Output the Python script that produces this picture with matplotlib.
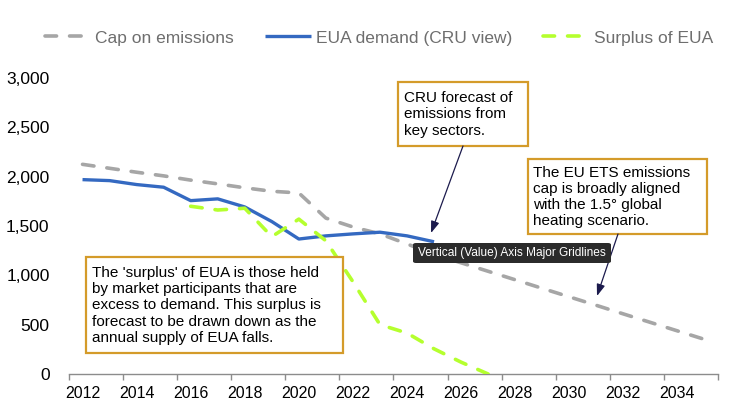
import numpy as np
import matplotlib
matplotlib.use("Agg")
import matplotlib.pyplot as plt
from matplotlib.patches import Rectangle, FancyBboxPatch
from matplotlib.ticker import FuncFormatter, FixedLocator

plt.rcParams['font.family'] = ['Liberation Sans', 'DejaVu Sans']

# data (million EUA)
years = np.arange(2012, 2036)
cap = [2125, 2085, 2045, 2008, 1965, 1927, 1887, 1852, 1835, 1580, 1490, 1420,
       1318, 1213, 1127, 1041, 955, 868, 782, 696, 609, 523, 437, 351]
demand_years = np.arange(2012, 2026)
demand = [1970, 1960, 1920, 1893, 1757, 1775, 1693, 1545, 1368, 1400, 1420,
          1437, 1400, 1340]
surplus_years = np.arange(2016, 2028)
surplus = [1700, 1662, 1680, 1392, 1570, 1350, 935, 500, 415, 255, 120, 0]

y_ticks = [0, 500, 1000, 1500, 2000, 2500, 3000]
x_labels = list(range(2012, 2036, 2))

GRAY = '#A6A6A6'
BLUE = '#3469C1'
GREEN = '#B5FF2E'
GOLD = '#D49B2A'
NAVY = '#1C1B4D'

W, H = 738, 413
fig = plt.figure(figsize=(W / 100, H / 100), dpi=100)


def fx(px):
    return px / W


def fy(py):
    return 1 - py / H


ax = fig.add_axes([fx(69), fy(374), fx(718) - fx(69), fy(78) - fy(374)])

ax.plot(years, cap, color=GRAY, lw=2.6, ls=(0, (3.2, 3.6)),
        dash_capstyle='round', label='Cap on emissions', zorder=2)
ax.plot(demand_years, demand, color=BLUE, lw=2.4, solid_capstyle='butt',
        label='EUA demand (CRU view)', zorder=3)
ax.plot(surplus_years, surplus, color=GREEN, lw=2.6, ls=(0, (3.2, 3.6)),
        dash_capstyle='round', label='Surplus of EUA', zorder=4)

ax.set_xlim(2011.5, 2035.5)
ax.set_ylim(0, 3000)
ax.set_yticks(y_ticks)
ax.yaxis.set_major_formatter(FuncFormatter(lambda v, p: f'{int(v):,}'))
ax.tick_params(axis='y', length=0, pad=14, labelsize=12.5)

# category axis: tick marks between categories, labels every second year
ax.xaxis.set_major_locator(FixedLocator(np.arange(2011.5, 2036, 2)))
ax.set_xticklabels([])
ax.xaxis.set_minor_locator(FixedLocator(x_labels))
ax.set_xticklabels([str(y) for y in x_labels], minor=True)
ax.tick_params(axis='x', which='major', length=4, width=1, color='#8C8C8C')
ax.tick_params(axis='x', which='minor', length=0, pad=9, labelsize=11.5)

for side in ['left', 'right', 'top']:
    ax.spines[side].set_visible(False)
ax.spines['bottom'].set_color('#8C8C8C')
ax.spines['bottom'].set_linewidth(1)

leg = fig.legend(loc='center', bbox_to_anchor=(fx(379), fy(38)), ncol=3,
                 frameon=False, fontsize=12.5, handlelength=2.6,
                 handletextpad=0.3, columnspacing=1.8)
for t in leg.get_texts():
    t.set_color('#6E6E6E')

# annotation boxes
boxes = [
    (398, 82, 528, 146, 404, "CRU forecast of\nemissions from\nkey sectors."),
    (528, 159, 707, 234, 533,
     "The EU ETS emissions\ncap is broadly aligned\nwith the 1.5\u00b0 global\nheating scenario."),
    (86, 257, 343, 353, 92,
     "The 'surplus' of EUA is those held\nby market participants that are\n"
     "excess to demand. This surplus is\nforecast to be drawn down as the\n"
     "annual supply of EUA falls."),
]
for x0, y0, x1, y1, tx, txt in boxes:
    fig.patches.append(Rectangle((fx(x0), fy(y1)), fx(x1) - fx(x0), fy(y0) - fy(y1),
                                 transform=fig.transFigure, facecolor='white',
                                 edgecolor=GOLD, lw=1.6, zorder=5))
    fig.text(fx(tx), fy((y0 + y1) / 2 + 0.5), txt, fontsize=11, ha='left',
             va='center', linespacing=1.2, color='black', zorder=6)

arrows = [((463, 146), (431, 233)), ((618, 234), (597, 296))]
for (sx, sy), (ex, ey) in arrows:
    fig.add_artist(plt.Annotation('', xy=(fx(ex), fy(ey)), xytext=(fx(sx), fy(sy)),
                                  xycoords='figure fraction', textcoords='figure fraction',
                                  arrowprops=dict(arrowstyle='-|>,head_length=0.7,head_width=0.25',
                                                  color=NAVY, lw=0.9, shrinkA=0, shrinkB=0),
                                  zorder=7))

# hover tooltip captured in the screenshot
fig.patches.append(FancyBboxPatch((fx(413), fy(263)), fx(611) - fx(413), fy(243) - fy(263),
                                  boxstyle='round,pad=0,rounding_size=0.004',
                                  transform=fig.transFigure, facecolor='#2B2B2B',
                                  edgecolor='none', zorder=8))
fig.text(fx(512), fy(253), 'Vertical (Value) Axis Major Gridlines', fontsize=8.6,
         color='white', ha='center', va='center', zorder=9)

fig.savefig('out.png', dpi=100)
